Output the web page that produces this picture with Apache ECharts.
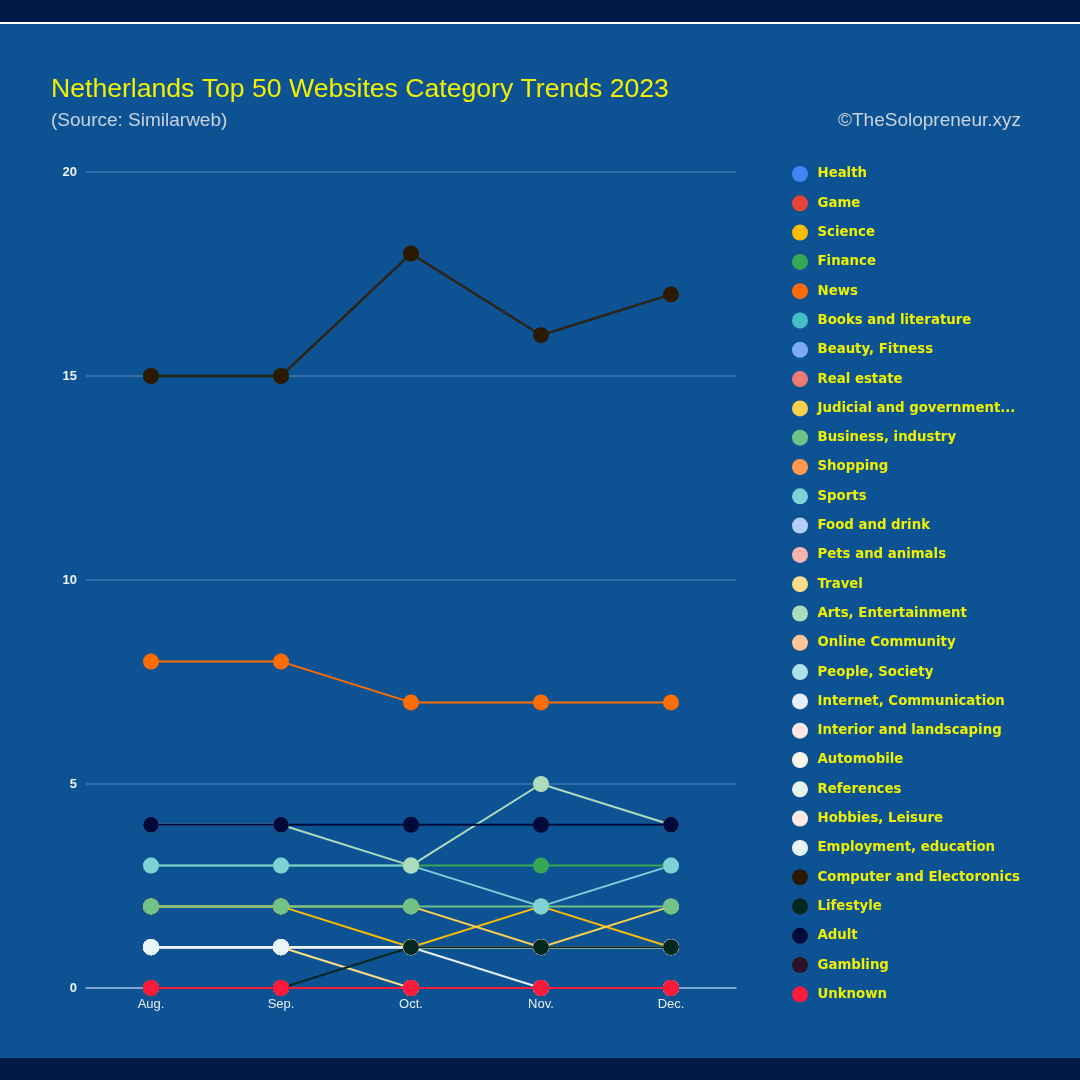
<!DOCTYPE html>
<html>
<head>
<meta charset="utf-8">
<script src="https://cdn.jsdelivr.net/npm/echarts@6/dist/echarts.min.js"></script>
<style>
html,body{margin:0;padding:0;background:#001a47;}
#chart{width:1080px;height:1080px;}
</style>
</head>
<body>
<div id="chart"></div>
<script>
const months = ["Aug.", "Sep.", "Oct.", "Nov.", "Dec."];
const yTicks = [0, 5, 10, 15, 20];

const categories = [
  "Health", "Game", "Science", "Finance", "News", "Books and literature",
  "Beauty, Fitness", "Real estate", "Judicial and government...", "Business, industry",
  "Shopping", "Sports", "Food and drink", "Pets and animals", "Travel",
  "Arts, Entertainment", "Online Community", "People, Society",
  "Internet, Communication", "Interior and landscaping", "Automobile",
  "References", "Hobbies, Leisure", "Employment, education",
  "Computer and Electoronics", "Lifestyle", "Adult", "Gambling", "Unknown"
];

const health      = [0, 0, 0, 0, 0];
const game        = [0, 0, 0, 0, 0];
const science     = [2, 2, 1, 2, 1];
const finance     = [3, 3, 3, 3, 3];
const news        = [8, 8, 7, 7, 7];
const books       = [0, 0, 0, 0, 0];
const beauty      = [0, 0, 0, 0, 0];
const realEstate  = [0, 0, 0, 0, 0];
const judicial    = [2, 2, 2, 1, 2];
const business    = [2, 2, 2, 2, 2];
const shopping    = [0, 0, 0, 0, 0];
const sports      = [3, 3, 3, 2, 3];
const food        = [0, 0, 0, 0, 0];
const pets        = [0, 0, 0, 0, 0];
const travel      = [1, 1, 0, 0, 0];
const arts        = [4, 4, 3, 5, 4];
const community   = [0, 0, 0, 0, 0];
const people      = [0, 0, 0, 0, 0];
const internet    = [1, 1, 1, 0, 0];
const interior    = [1, 1, 1, 1, 1];
const automobile  = [1, 1, 1, 1, 1];
const references  = [1, 1, 1, 1, 1];
const hobbies     = [1, 1, 1, 1, 1];
const employment  = [1, 1, 1, 1, 1];
const computer    = [15, 15, 18, 16, 17];
const lifestyle   = [0, 0, 1, 1, 1];
const adult       = [4, 4, 4, 4, 4];
const gambling    = [0, 0, 0, 0, 0];
const unknown     = [0, 0, 0, 0, 0];

const seriesValues = [health, game, science, finance, news, books, beauty, realEstate,
  judicial, business, shopping, sports, food, pets, travel, arts, community, people,
  internet, interior, automobile, references, hobbies, employment, computer, lifestyle,
  adult, gambling, unknown];

const colors = ["#4285f4", "#ea4335", "#fbbc04", "#34a853", "#ff6d01", "#46bdc6",
  "#7baaf7", "#f07b72", "#fcd04f", "#71c287", "#ff994d", "#7ed1d7", "#b3cefb",
  "#f7b4ae", "#fddd8a", "#acdcbb", "#ffc599", "#afe2e8", "#e7eefd", "#fde5e6",
  "#fff7e6", "#e8f4ec", "#fdeae3", "#e8f6f8", "#2b1a00", "#02271f", "#000b3b",
  "#2d1124", "#ff1a3c"];

const series = categories.map((name, i) => ({
  name: name,
  type: "line",
  data: seriesValues[i],
  symbol: "circle",
  symbolSize: 16,
  lineStyle: { width: i === 24 ? 2.5 : 2, color: i === 24 ? "#2b2417" : colors[i] },
  itemStyle: { color: colors[i] },
  emphasis: { disabled: true },
  animation: false
}));

const chart = echarts.init(document.getElementById("chart"), null, { renderer: "canvas" });
chart.setOption({
  backgroundColor: "#001a47",
  animation: false,
  graphic: [
    { type: "rect", z: -10, shape: { x: 0, y: 22, width: 1080, height: 2 }, style: { fill: "#ffffff" } },
    { type: "rect", z: -10, shape: { x: 0, y: 24, width: 1080, height: 1034 }, style: { fill: "#0d5394" } }
  ],
  title: [
    {
      text: "Netherlands Top 50 Websites Category Trends 2023",
      left: 46, top: 71,
      textStyle: { color: "#f0f000", fontSize: 26.6, fontWeight: "normal", fontFamily: "Liberation Sans" }
    },
    {
      text: "(Source: Similarweb)",
      left: 46, top: 106,
      textStyle: { color: "#c9d3df", fontSize: 19, fontWeight: "normal", fontFamily: "Liberation Sans" }
    },
    {
      text: "©TheSolopreneur.xyz",
      right: 54, top: 106,
      textStyle: { color: "#c9d3df", fontSize: 19, fontWeight: "normal", fontFamily: "Liberation Sans" }
    }
  ],
  color: colors,
  legend: {
    orient: "vertical",
    left: 787, top: 161,
    itemWidth: 25, itemHeight: 16, itemGap: 13.3,
    icon: "circle",
    data: categories,
    textStyle: { color: "#eef200", fontSize: 13.3, fontWeight: "bold", fontFamily: "DejaVu Sans" },
    selectedMode: false
  },
  grid: { left: 86, right: 344, top: 172, bottom: 92, containLabel: false },
  xAxis: {
    type: "category",
    data: months,
    boundaryGap: true,
    axisLine: { lineStyle: { color: "#9bbbe0", width: 1.5 } },
    axisTick: { show: false },
    axisLabel: { color: "#e8eef6", fontSize: 13, fontFamily: "Liberation Sans", margin: 10 }
  },
  yAxis: {
    type: "value",
    min: yTicks[0], max: yTicks[yTicks.length - 1], interval: 5,
    axisLine: { show: false },
    axisTick: { show: false },
    splitLine: { lineStyle: { color: "#3b78b5", width: 1.5 } },
    axisLabel: { color: "#eef3f8", fontSize: 13, fontWeight: "bold", fontFamily: "Liberation Sans", margin: 9 }
  },
  series: series
});
</script>
</body>
</html>
